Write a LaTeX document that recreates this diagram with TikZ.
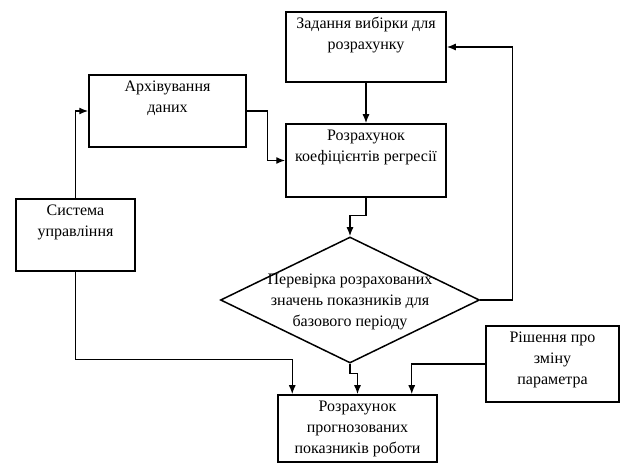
\documentclass[tikz,border=0pt]{standalone}
\usepackage{fontspec}
\setmainfont{Liberation Serif}
\usetikzlibrary{shapes.geometric,arrows.meta,calc}
\newcommand{\bt}[3]{\parbox[c][#2][t]{#1}{\centering\fontsize{16}{21}\selectfont\rule{0pt}{16.5pt}#3}}
\tikzset{
  box/.style={draw, line width=1.5pt, inner sep=0pt, rectangle},
  decision/.style={draw, diamond, line width=1.5pt, inner sep=0pt},
  arr/.style={line width=1.4pt, -{Latex[length=9pt,width=7pt]}}
}
\begin{document}
\begin{tikzpicture}[x=1pt,y=-1pt]
\useasboundingbox (0,0) rectangle (622,465);
\node[box] (zad) at (366,47) {\bt{160pt}{70pt}{Задання вибірки для\\розрахунку}};
\node[box] (arch) at (167.5,111) {\bt{157pt}{72pt}{Архівування\\даних}};
\node[box] (koef) at (366,160.5) {\bt{160pt}{73pt}{Розрахунок\\коефіцієнтів регресії}};
\node[box] (sys) at (75.5,235) {\bt{119pt}{72pt}{Система\\управління}};
\node[box] (rish) at (552.5,364) {\bt{133pt}{76pt}{Рішення про\\зміну\\параметра}};
\node[box] (bot) at (357.5,428.5) {\bt{159pt}{67pt}{Розрахунок\\прогнозованих\\показників роботи}};
\node[decision, minimum width=259pt, minimum height=126pt] (dia) at (350,300)
  {\makebox[0pt]{\raisebox{-4pt}[0pt][0pt]{\parbox[c]{220pt}{\centering\fontsize{16}{21}\selectfont Перевірка розрахованих\\значень показників для\\базового періоду}}}};
\coordinate (b1) at ($(bot.north west)+(15,0)$);
\coordinate (b3) at ($(bot.north east)+(-26,0)$);
\draw[arr] (sys.north) |- (arch.west);
\draw[arr] (arch.east) -- ++(21,0) |- (koef.west);
\draw[arr] (zad.south) -- (koef.north);
\draw[arr] (koef.south) -- ++(0,18) -| (dia.north);
\draw[arr] (dia.east) -- ++(32,0) |- (zad.east);
\draw[arr] (sys.south) -- ++(0,88) -| (b1);
\draw[arr] (dia.south) -- ++(0,10) -| (bot.north);
\draw[arr] (rish.west) -| (b3);
\end{tikzpicture}
\end{document}
